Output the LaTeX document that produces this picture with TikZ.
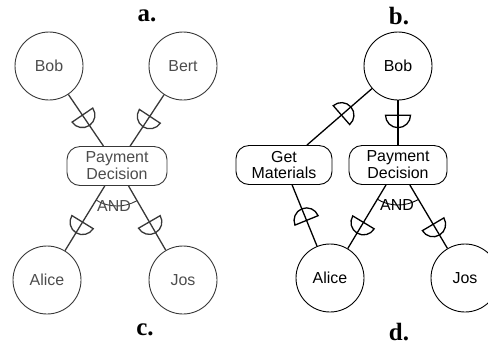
\documentclass[tikz,border=0pt]{standalone}
\usepackage{fontspec}
\setmainfont{Liberation Serif}
\newfontfamily\arialf{Liberation Sans}
\usetikzlibrary{decorations.markings}
\begin{document}
\begin{tikzpicture}[x=1bp,y=-1bp,
  actor/.style={circle,draw,line width=0.9bp,minimum size=68bp,inner sep=0pt,font=\arialf\fontsize{16}{17}\selectfont},
  goal/.style={draw,line width=0.9bp,rounded corners=13bp,minimum width=98bp,minimum height=39bp,inner sep=0pt,align=center,font=\arialf\fontsize{16}{17}\selectfont},
  dep/.style={line width=1.3bp},
  txt/.style={font=\arialf\fontsize{16}{17}\selectfont,inner sep=0pt},
  toend/.style={postaction={decorate,decoration={markings,mark=at position #1 with {\draw (0,-12.5bp) arc[start angle=-90,end angle=90,radius=12.5bp] -- cycle;}}}},
  tostart/.style={postaction={decorate,decoration={markings,mark=at position #1 with {\draw (0,12.5bp) arc[start angle=90,end angle=270,radius=12.5bp] -- cycle;}}}},
  lbl/.style={font=\bfseries\fontsize{25}{27}\selectfont,inner sep=0pt}
]
\useasboundingbox (0,0) rectangle (488,346);
% labels
\node[lbl] (la) at (147,16) {a.};
\node[lbl] (lb) at (399,16) {b.};
\node[lbl] (lc) at (145,330) {c.};
\node[lbl] (ld) at (399,332) {d.};
% left panel
\begin{scope}[black!78,text=black!70]
\node[actor] (bobA) at (49,66) {Bob};
\node[actor] (bert) at (183,66) {Bert};
\node[goal,minimum width=100bp] (payA) at (117,166) {Payment\\Decision};
\node[actor] (aliceC) at (47,280) {Alice};
\node[actor] (josC) at (183,280) {Jos};
\draw[dep,toend=0.4] (bobA) -- (payA);
\draw[dep,toend=0.42] (bert) -- (payA);
\draw[dep,toend=0.56] (payA) -- (aliceC);
\draw[dep,toend=0.56] (payA) -- (josC);
\draw[line width=0.9bp] ([shift={(-121:40bp)}]payA.center) arc[start angle=-121,end angle=-60,radius=40bp];
\node[txt] (andA) at (114,206) {AND};
\end{scope}
% right panel
\node[actor] (bobB) at (398,66) {Bob};
\node[goal,minimum width=96bp] (getm) at (284,165) {Get\\Materials};
\node[goal] (payB) at (398,165) {Payment\\Decision};
\node[actor] (aliceD) at (330,278) {Alice};
\node[actor] (josD) at (465,278) {Jos};
\draw[dep,tostart=0.47] (bobB) -- (getm);
\draw[dep,toend=0.33] (bobB) -- (payB);
\draw[dep,tostart=0.58] (getm) -- (aliceD);
\draw[dep,toend=0.59] (payB) -- (aliceD);
\draw[dep,toend=0.62] (payB) -- (josD);
\draw[line width=0.9bp] ([shift={(-121:40bp)}]payB.center) arc[start angle=-121,end angle=-60,radius=40bp];
\node[txt] (andB) at (397,205) {AND};
\end{tikzpicture}
\end{document}
